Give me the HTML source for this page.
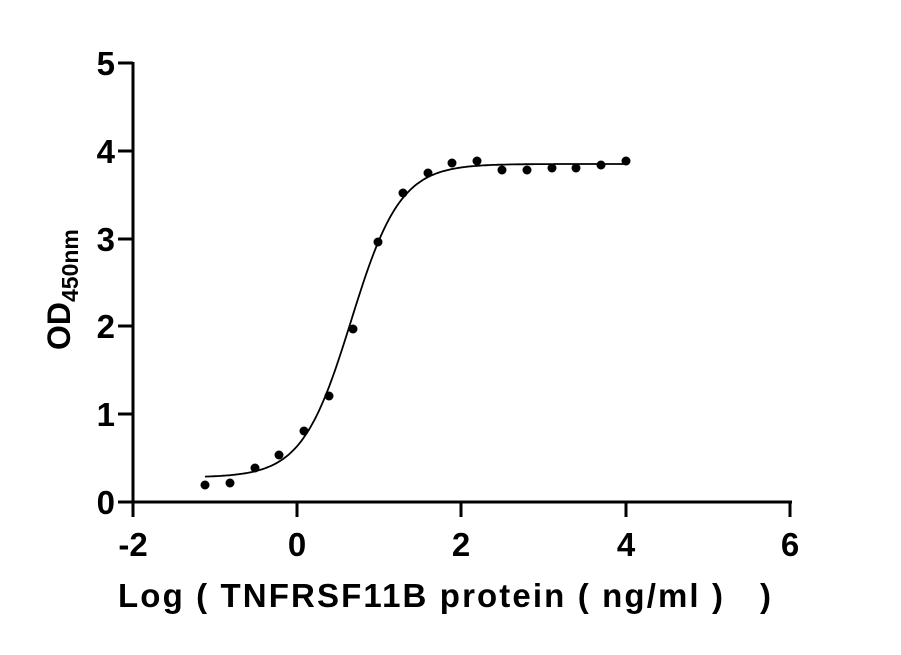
<!DOCTYPE html>
<html><head><meta charset="utf-8"><style>
body{margin:0;background:#fff}
text{font-family:"Liberation Sans",sans-serif;font-weight:bold;fill:#000}
</style></head><body>
<svg width="901" height="650" xmlns="http://www.w3.org/2000/svg">
<g stroke="#000" stroke-width="3" fill="none">
<line x1="133" y1="62" x2="133" y2="503.5"/>
<line x1="131.5" y1="502" x2="792" y2="502"/>
<line x1="118" y1="63" x2="133" y2="63"/>
<line x1="118" y1="151" x2="133" y2="151"/>
<line x1="118" y1="239" x2="133" y2="239"/>
<line x1="118" y1="326" x2="133" y2="326"/>
<line x1="118" y1="414" x2="133" y2="414"/>
<line x1="118" y1="502" x2="133" y2="502"/>
<line x1="133" y1="502" x2="133" y2="517"/>
<line x1="297" y1="502" x2="297" y2="517"/>
<line x1="461" y1="502" x2="461" y2="517"/>
<line x1="626" y1="502" x2="626" y2="517"/>
<line x1="790" y1="502" x2="790" y2="517"/>
</g>
<g font-size="33" text-anchor="end">
<text x="115" y="75">5</text><text x="115" y="163">4</text><text x="115" y="251">3</text>
<text x="115" y="338">2</text><text x="115" y="426">1</text><text x="115" y="514">0</text>
</g>
<g font-size="33" text-anchor="middle">
<text x="133" y="556">-2</text><text x="297" y="556">0</text><text x="461" y="556">2</text>
<text x="626" y="556">4</text><text x="790" y="556">6</text>
</g>
<text x="118" y="607" font-size="33" textLength="605" lengthAdjust="spacing">Log ( TNFRSF11B protein ( ng/ml )</text>
<text x="760" y="607" font-size="33">)</text>
<text transform="translate(70,350) rotate(-90)" font-size="32">OD<tspan font-size="23" dy="8">450nm</tspan></text>
<path id="c" fill="none" stroke="#000" stroke-width="1.8"/>
<g fill="#000">
<circle cx="205" cy="485" r="4.5"/><circle cx="230" cy="483" r="4.5"/><circle cx="255" cy="468" r="4.5"/>
<circle cx="279" cy="455" r="4.5"/><circle cx="304" cy="431" r="4.5"/><circle cx="329" cy="396" r="4.5"/>
<circle cx="353" cy="329" r="4.5"/><circle cx="378" cy="242" r="4.5"/><circle cx="403" cy="193" r="4.5"/>
<circle cx="428" cy="173" r="4.5"/><circle cx="452" cy="163" r="4.5"/><circle cx="477" cy="161" r="4.5"/>
<circle cx="502" cy="170" r="4.5"/><circle cx="527" cy="170" r="4.5"/><circle cx="552" cy="168" r="4.5"/>
<circle cx="576" cy="168" r="4.5"/><circle cx="601" cy="165" r="4.5"/><circle cx="626" cy="161" r="4.5"/>
</g>
</svg>
<script>
var d="",B=0.28,T=3.85,c=0.66,h=1.45;
for(var px=205;px<=626;px+=2){var x=(px-297)/82;var y=B+(T-B)/(1+Math.pow(10,(c-x)*h));var py=502-y*87.8;d+=(d?"L":"M")+px+","+py.toFixed(1);}
document.getElementById("c").setAttribute("d",d);
</script>
</body></html>
